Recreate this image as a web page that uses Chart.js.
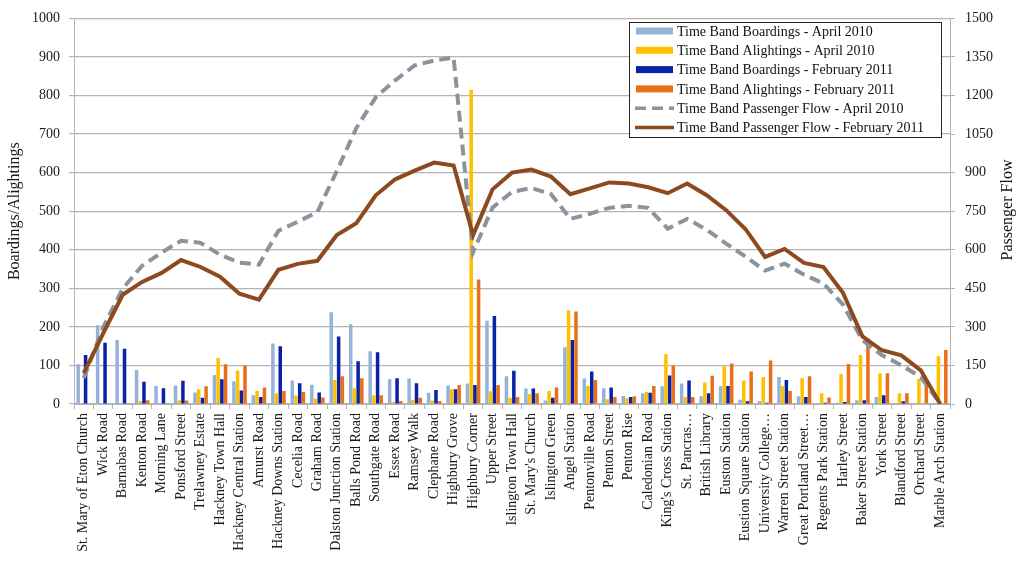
<!DOCTYPE html>
<html>
<head>
<meta charset="utf-8">
<title>Time Band Boardings / Alightings</title>
<script src="https://cdn.jsdelivr.net/npm/chart.js@4.4.0/dist/chart.umd.min.js"></script>
<style>
  html, body { margin: 0; padding: 0; background: #fff; }
  #wrap { width: 1021px; height: 569px; }
</style>
</head>
<body>
<div id="wrap"><canvas id="fluxo" width="1021" height="569"></canvas></div>
<script>
// bus stops along the route
const paradas = [
  "St. Mary of Eton Church", "Wick Road", "Barnabas Road", "Kenton Road", "Morning Lane",
  "Ponsford Street", "Trelawney Estate", "Hackney Town Hall", "Hackney Central Station", "Amurst Road",
  "Hackney Downs Station", "Cecelia Road", "Graham Road", "Dalston Junction Station", "Balls Pond Road",
  "Southgate Road", "Essex Road", "Ramsey Walk", "Clephane Road", "Highbury Grove",
  "Highbury Corner", "Upper Street", "Islington Town Hall", "St. Mary's Church", "Islington Green",
  "Angel Station", "Pentonville Road", "Penton Street", "Penton Rise", "Caledonian Road",
  "King's Cross Station", "St. Pancras…", "British Library", "Euston Station", "Eustion Square Station",
  "University College…", "Warren Street Station", "Great Portland Street…", "Regents Park Station", "Harley Street",
  "Baker Street Station", "York Street", "Blandford Street", "Orchard Street", "Marble Arch Station"
];

const embarquesAbr2010 = [103, 204, 166, 88, 47, 48, 30, 75, 59, 23, 157, 61, 50, 238, 207, 137, 64, 66, 29, 48,
  53, 216, 72, 40, 9, 147, 66, 41, 21, 28, 46, 53, 20, 46, 11, 8, 70, 20, 1, 3, 10, 18, 1, 1, 0];
const desembarquesAbr2010 = [0, 2, 0, 8, 0, 10, 38, 119, 87, 34, 28, 22, 14, 62, 41, 23, 5, 11, 9, 38,
  815, 33, 16, 26, 34, 243, 47, 12, 15, 31, 129, 18, 56, 98, 61, 70, 47, 67, 28, 78, 127, 80, 28, 65, 124];
const embarquesFev2011 = [127, 159, 143, 58, 41, 60, 16, 64, 35, 18, 150, 54, 30, 175, 111, 134, 67, 54, 36, 38,
  49, 228, 86, 40, 16, 166, 84, 43, 18, 29, 74, 61, 28, 47, 7, 3, 62, 18, 3, 5, 10, 23, 7, 1, 0];
const desembarquesFev2011 = [0, 0, 2, 10, 2, 9, 46, 103, 99, 43, 34, 31, 17, 72, 67, 23, 8, 16, 8, 49,
  323, 49, 18, 28, 43, 240, 62, 18, 20, 47, 100, 18, 73, 105, 84, 113, 34, 72, 17, 104, 170, 80, 28, 55, 140];

const fluxoAbr2010 = [100, 298, 449, 538, 589, 635, 627, 581, 550, 542, 674, 709, 747, 906, 1073, 1193, 1259, 1317, 1336, 1348,
  590, 764, 825, 840, 817, 720, 740, 763, 771, 763, 682, 720, 678, 624, 573, 519, 546, 503, 469, 387, 248, 190, 151, 105, 0];
const fluxoFev2011 = [120, 275, 425, 475, 510, 560, 533, 495, 429, 406, 522, 545, 557, 657, 703, 812, 874, 908, 939, 928,
  657, 835, 900, 912, 885, 816, 839, 862, 858, 843, 820, 858, 812, 754, 680, 572, 603, 549, 533, 433, 263, 209, 189, 131, 0];

const FONTE = "'Liberation Serif', 'Times New Roman', serif";
const GRADE = "#b4b4b4";

Chart.defaults.font.family = FONTE;
Chart.defaults.color = "#1a1a1a";

// legend box + right axis title, drawn by hand
const legendaCaixa = {
  id: "legendaCaixa",
  afterDraw(chart) {
    const ctx = chart.ctx;
    const x0 = 629, y0 = 22, w = 312, h = 115;
    ctx.save();
    ctx.fillStyle = "#fff";
    ctx.fillRect(x0, y0, w, h);
    ctx.strokeStyle = "#222";
    ctx.lineWidth = 1;
    ctx.strokeRect(x0 + 0.5, y0 + 0.5, w, h);

    ctx.font = "14px " + FONTE;
    ctx.textBaseline = "middle";
    chart.data.datasets.forEach((ds, i) => {
      const yy = 31 + i * 19.3;
      if (ds.type === "line") {
        ctx.strokeStyle = ds.borderColor;
        ctx.lineWidth = 3.5;
        ctx.setLineDash(ds.borderDash || []);
        ctx.beginPath();
        ctx.moveTo(635, yy);
        ctx.lineTo(674, yy);
        ctx.stroke();
        ctx.setLineDash([]);
      } else {
        ctx.fillStyle = ds.backgroundColor;
        ctx.fillRect(636, yy - 3.5, 37, 7);
      }
      ctx.fillStyle = "#111";
      ctx.fillText(ds.label, 677, yy + 1);
    });

    // right title reads bottom-to-top like the left one
    ctx.translate(1008, 210);
    ctx.rotate(-Math.PI / 2);
    ctx.textAlign = "center";
    ctx.font = "16px " + FONTE;
    ctx.fillText("Passenger Flow", 0, 0);
    ctx.restore();
  }
};

const semMilhar = v => String(v);

const grafico = new Chart(document.getElementById("fluxo"), {
  data: {
    labels: paradas,
    datasets: [
      {
        type: "bar", label: "Time Band Boardings - April 2010", data: embarquesAbr2010,
        backgroundColor: "#95b3d7", yAxisID: "y", order: 2
      },
      {
        type: "bar", label: "Time Band Alightings - April 2010", data: desembarquesAbr2010,
        backgroundColor: "#ffc000", yAxisID: "y", order: 2
      },
      {
        type: "bar", label: "Time Band Boardings - February 2011", data: embarquesFev2011,
        backgroundColor: "#0a22a6", yAxisID: "y", order: 2
      },
      {
        type: "bar", label: "Time Band Alightings - February 2011", data: desembarquesFev2011,
        backgroundColor: "#e8701a", yAxisID: "y", order: 2
      },
      {
        type: "line", label: "Time Band Passenger Flow - April 2010", data: fluxoAbr2010,
        borderColor: "#8a949e", borderWidth: 4, borderDash: [11, 6], pointRadius: 0,
        tension: 0, fill: false, yAxisID: "y1", order: 1
      },
      {
        type: "line", label: "Time Band Passenger Flow - February 2011", data: fluxoFev2011,
        borderColor: "#8c4a1e", borderWidth: 4, pointRadius: 0,
        tension: 0, fill: false, yAxisID: "y1", order: 0
      }
    ]
  },
  options: {
    responsive: false,
    animation: false,
    layout: { padding: { top: 16, left: 0, right: 0, bottom: 0 } },
    datasets: {
      bar: { categoryPercentage: 0.76, barPercentage: 0.95 }
    },
    plugins: {
      legend: { display: false },
      tooltip: { enabled: false }
    },
    scales: {
      x: {
        offset: true,
        grid: { offset: true, drawOnChartArea: false, drawTicks: true, tickLength: 5, color: GRADE },
        border: { display: true, color: GRADE },
        ticks: {
          autoSkip: false, minRotation: 90, maxRotation: 90, padding: 4,
          font: { size: 14 }, color: "#1a1a1a"
        },
        afterFit(s) { s.height = 165; }
      },
      y: {
        position: "left",
        min: 0, max: 1000,
        grid: { color: GRADE, lineWidth: 1.2, tickLength: 5 },
        border: { display: true, color: GRADE },
        ticks: { stepSize: 100, padding: 9, font: { size: 14 }, color: "#1a1a1a", callback: semMilhar },
        title: { display: true, text: "Boardings/Alightings", font: { size: 16 }, padding: { top: 5, bottom: 0 }, color: "#1a1a1a" },
        afterFit(s) { s.width = 74; }
      },
      y1: {
        position: "right",
        min: 0, max: 1500,
        grid: { drawOnChartArea: false, color: GRADE, tickLength: 5 },
        border: { display: true, color: GRADE },
        ticks: { stepSize: 150, padding: 10, font: { size: 14 }, color: "#1a1a1a", callback: semMilhar },
        afterFit(s) { s.width = 71; }
      }
    }
  },
  plugins: [legendaCaixa]
});
</script>
</body>
</html>
